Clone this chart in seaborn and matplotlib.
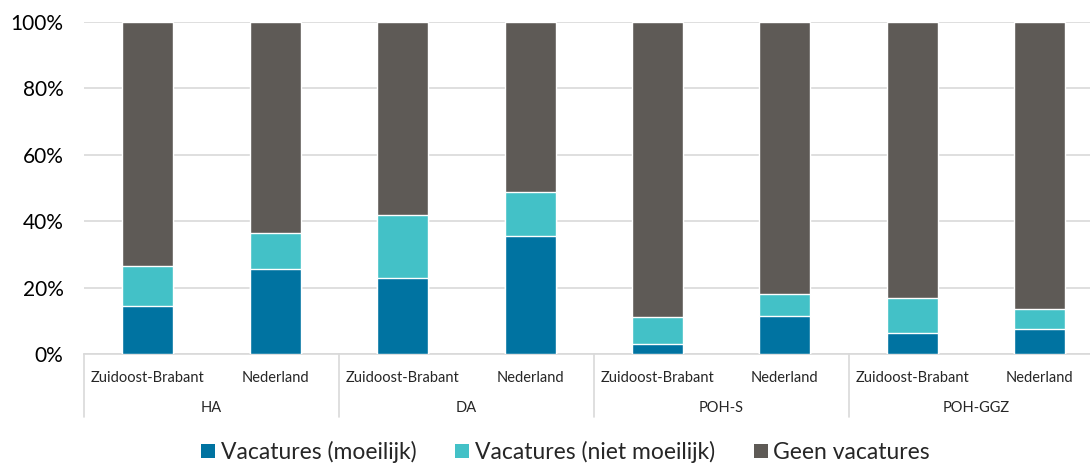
import matplotlib
matplotlib.use('Agg')
import matplotlib.pyplot as plt
import matplotlib.transforms as mtransforms
from matplotlib.patches import Patch
import pandas as pd
import seaborn as sns

# data (percent of practices)
functies = ['HA', 'DA', 'POH-S', 'POH-GGZ']
regios = ['Zuidoost-Brabant', 'Nederland']
moeilijk = [14.5, 25.6, 23.0, 35.4, 3.0, 11.4, 6.3, 7.4]
niet_moeilijk = [12.1, 10.7, 18.9, 13.5, 8.2, 6.7, 10.6, 6.1]
series_names = ['Vacatures (moeilijk)', 'Vacatures (niet moeilijk)', 'Geen vacatures']
colors = ['#0073A1', '#43C1C7', '#5E5A56']


def build_frame() -> pd.DataFrame:
    rows = []
    i = 0
    for f in functies:
        for r in regios:
            m = moeilijk[i]
            n = niet_moeilijk[i]
            rows.append({'key': f'{f}|{r}', 'functie': f, 'regio': r,
                         'moeilijk': m, 'cum_niet': m + n, 'total': 100.0})
            i += 1
    return pd.DataFrame(rows)


def plot_vacatures(data: pd.DataFrame) -> None:
    sns.set_style(style='white')
    plt.rcParams['font.family'] = ['Lato', 'DejaVu Sans']

    fig = plt.figure(figsize=(10.9, 4.65), dpi=100)
    # axes runs a bit past the right edge, like the reference
    ax = fig.add_axes([0.0773, 0.2387, 0.935, 0.714])

    order = list(data['key'])
    for col, c in zip(['total', 'cum_niet', 'moeilijk'], colors[::-1]):
        sns.barplot(data=data, x='key', y=col, order=order, color=c,
                    width=0.4, saturation=1, errorbar=None, ax=ax, zorder=3)

    ax.set_ylim(0, 100)
    ax.set_xlim(-0.5, len(order) - 0.5)
    ax.set_yticks([0, 20, 40, 60, 80, 100])
    ax.set_yticklabels([f'{v}%' for v in [0, 20, 40, 60, 80, 100]], fontsize=15)
    ax.yaxis.grid(True, color='#D9D9D9', linewidth=1.2, zorder=0)
    ax.set_axisbelow(True)
    for s in ['top', 'right', 'left']:
        ax.spines[s].set_visible(False)
    ax.spines['bottom'].set_color('#D9D9D9')
    ax.spines['bottom'].set_linewidth(1.2)
    ax.tick_params(axis='both', length=0)
    ax.tick_params(axis='y', pad=15, colors='#000000')
    ax.set_xlabel('')
    ax.set_ylabel('')

    ax.set_xticks(range(len(order)))
    ax.set_xticklabels(list(data['regio']), fontsize=10.5)
    ax.tick_params(axis='x', pad=12)

    trans = mtransforms.blended_transform_factory(ax.transData, ax.transAxes)
    for g, f in enumerate(functies):
        ax.text(2 * g + 0.5, -0.162, f, transform=trans, ha='center', va='center', fontsize=10.5)
    for b in range(len(functies) + 1):
        ax.plot([2 * b - 0.5, 2 * b - 0.5], [0, -0.19], transform=trans,
                color='#D9D9D9', linewidth=1.2, clip_on=False)

    handles = [Patch(facecolor=c, edgecolor='none', label=n) for c, n in zip(colors, series_names)]
    fig.legend(handles=handles, loc='center', bbox_to_anchor=(0.519, 0.028), ncol=3,
               frameon=False, fontsize=16.5, handlelength=0.6, handleheight=0.6,
               handletextpad=0.25, columnspacing=1.7)

    fig.savefig('out.png', dpi=100)
    plt.close(fig)


if __name__ == '__main__':
    plot_vacatures(build_frame())
